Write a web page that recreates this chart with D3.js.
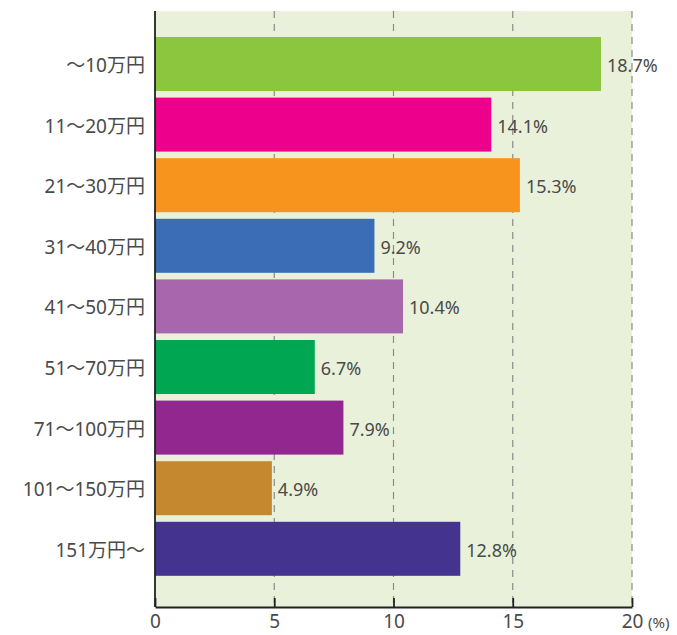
<!DOCTYPE html>
<html><head><meta charset="utf-8">
<script src="https://cdn.jsdelivr.net/npm/d3@7/dist/d3.min.js"></script>
<style>body{margin:0;background:#fff;} text{font-family:"Noto Sans","Noto Sans CJK JP",sans-serif;}</style>
</head><body>
<svg id="c" width="677" height="635"></svg>
<script>
const categories = ["～10万円","11～20万円","21～30万円","31～40万円","41～50万円","51～70万円","71～100万円","101～150万円","151万円～"];
const values = [18.7,14.1,15.3,9.2,10.4,6.7,7.9,4.9,12.8];
const colors = ["#8cc63f","#ec008c","#f7941d","#3a6db5","#a866ac","#00a651","#92278f","#c6882f","#44338f"];
const ticks = [0,5,10,15,20];

(function(){
const svg = d3.select("#c");
const pl = 155, pr = 632, pt = 11, pb = 607;
const x = d3.scaleLinear().domain([0,20]).range([pl,pr]);
const y = d3.scaleBand().domain(categories).range([33.7,579.1]).paddingInner(0.109).paddingOuter(0.0545);

svg.append("rect").attr("x",pl).attr("y",pt).attr("width",pr-pl).attr("height",pb-pt).attr("fill","#e9f1da");

svg.selectAll("line.grid").data(ticks.slice(1)).enter().append("line")
  .attr("x1",d=>x(d)).attr("x2",d=>x(d)).attr("y1",pt).attr("y2",pb)
  .attr("stroke","#8a8a8a").attr("stroke-width",1.2).attr("stroke-dasharray","7,6");

svg.selectAll("rect.bar").data(values).enter().append("rect")
  .attr("x",x(0)).attr("y",(d,i)=>y(categories[i]))
  .attr("width",d=>x(d)-x(0)).attr("height",y.bandwidth())
  .attr("fill",(d,i)=>colors[i]);

svg.selectAll("text.val").data(values).enter().append("text")
  .attr("x",d=>x(d)+6).attr("y",(d,i)=>y(categories[i])+y.bandwidth()/2+8)
  .attr("font-size",18).attr("fill","#4a4a4a").text(d=>d.toFixed(1)+"%");

svg.selectAll("text.cat").data(categories).enter().append("text")
  .attr("x",145).attr("y",d=>y(d)+y.bandwidth()/2+8)
  .attr("text-anchor","end").attr("font-size",19).attr("fill","#4a4a4a").text(d=>d);

svg.append("line").attr("x1",pl).attr("x2",pl).attr("y1",pt).attr("y2",pb)
  .attr("stroke","#222").attr("stroke-width",1.8);

const ax = svg.append("g").attr("transform",`translate(0,${pb})`)
  .call(d3.axisBottom(x).tickValues(ticks).tickSize(-9).tickPadding(8).tickSizeOuter(0));
ax.select(".domain").attr("stroke","#222").attr("stroke-width",1.8);
ax.selectAll(".tick line").attr("stroke","#222").attr("stroke-width",1.8);
ax.selectAll(".tick text").attr("font-size",19).attr("fill","#4a4a4a")
  .style("font-family","'Noto Sans','Noto Sans CJK JP',sans-serif");

svg.append("text").attr("x",648).attr("y",628).attr("font-size",15).attr("fill","#4a4a4a").text("(%)");
})();
</script>
</body></html>
